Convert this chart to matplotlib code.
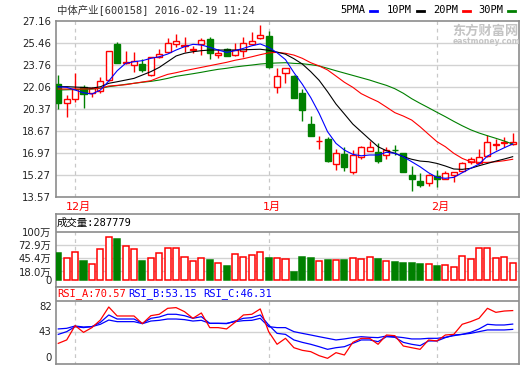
import matplotlib
matplotlib.use('Agg')
import matplotlib.pyplot as plt
import matplotlib.transforms as mtrans
from matplotlib.lines import Line2D

plt.rcParams['font.family'] = ['DejaVu Sans', 'Noto Sans CJK SC']
MONO = ['DejaVu Sans Mono', 'Noto Sans CJK SC']

# daily candles, 2015-11-27 .. 2016-02-19
opens = [22.31, 20.84, 21.13, 22.11, 21.60, 21.80, 22.60, 25.41, 23.91, 23.81,
         23.86, 23.00, 24.38, 24.81, 25.41, 25.28, 24.98, 25.41, 25.76, 24.53,
         25.00, 24.56, 24.89, 25.41, 25.85, 26.02, 22.11, 23.14, 22.93, 21.64,
         19.22, 17.89, 18.06, 16.16, 16.91, 15.54, 16.70, 17.16, 17.08, 16.85,
         17.23, 16.96, 15.28, 14.84, 14.64, 15.21, 15.00, 15.28, 15.62, 16.29,
         16.23, 16.75, 17.63, 17.76, 17.65]
closes = [20.82, 21.13, 21.93, 21.54, 21.98, 22.57, 24.86, 23.96, 24.01, 24.07,
          23.40, 24.38, 24.63, 25.46, 25.64, 25.32, 25.02, 25.71, 24.69, 24.73,
          24.48, 24.94, 25.51, 25.66, 26.10, 23.60, 22.93, 23.52, 21.21, 20.30,
          18.30, 17.93, 16.39, 16.96, 15.93, 16.83, 17.42, 17.42, 16.39, 17.21,
          17.19, 15.54, 14.97, 14.51, 15.28, 15.00, 15.41, 15.51, 16.23, 16.49,
          16.65, 17.86, 17.67, 17.80, 17.86]
highs = [23.01, 21.46, 23.19, 22.20, 22.05, 22.88, 24.90, 25.55, 24.86, 24.76,
         24.22, 24.42, 25.00, 25.85, 26.18, 25.92, 25.25, 25.85, 25.97, 25.00,
         25.08, 25.46, 25.92, 26.36, 26.87, 26.41, 23.53, 23.55, 23.00, 21.90,
         19.84, 18.30, 18.24, 17.27, 17.42, 17.21, 17.50, 17.91, 17.73, 17.47,
         17.60, 17.00, 15.98, 15.46, 15.40, 15.67, 15.62, 15.55, 16.30, 16.65,
         17.27, 18.37, 18.04, 18.20, 18.50]
lows = [20.41, 19.79, 20.90, 20.50, 21.29, 21.64, 22.55, 23.90, 23.85, 23.27,
        23.25, 22.90, 24.30, 24.78, 25.20, 24.81, 24.69, 24.56, 24.22, 24.30,
        24.45, 24.50, 24.42, 25.38, 25.80, 23.55, 21.60, 22.37, 21.20, 19.48,
        18.28, 17.27, 16.30, 15.67, 15.62, 15.36, 16.54, 17.13, 16.23, 16.50,
        16.83, 15.50, 14.07, 14.33, 14.46, 14.38, 14.98, 14.76, 15.55, 16.13,
        16.13, 16.70, 17.21, 17.47, 17.60]

ma5 = [22.10, 22.06, 21.85, 21.64, 21.54, 21.85, 22.55, 23.34, 23.91, 24.04,
       24.12, 24.30, 24.42, 24.63, 24.94, 25.20, 25.38, 25.33, 25.15, 24.94,
       24.76, 24.89, 25.07, 25.27, 25.41, 25.15, 24.73, 24.20, 23.20, 22.30,
       21.27, 20.05, 18.63, 17.73, 17.21, 16.88, 16.77, 16.83, 16.83, 17.04,
       16.96, 16.70, 16.31, 15.92, 15.46, 15.10, 15.03, 15.10, 15.46, 15.80,
       16.13, 16.75, 17.08, 17.39, 17.68]
ma10 = [22.11, 22.11, 22.08, 22.05, 22.00, 22.10, 22.37, 22.49, 22.62, 22.75,
        23.01, 23.27, 23.60, 24.04, 24.48, 24.69, 24.81, 24.89, 24.94, 24.94,
        24.94, 24.94, 24.96, 24.98, 25.00, 24.92, 24.78, 24.62, 24.27, 23.86,
        23.27, 22.60, 21.72, 20.77, 20.00, 19.22, 18.63, 18.04, 17.47, 17.16,
        16.96, 16.70, 16.50, 16.36, 16.31, 16.18, 15.98, 15.75, 15.72, 15.80,
        16.00, 16.18, 16.36, 16.52, 16.70]
ma20 = [21.93, 21.93, 21.93, 21.93, 21.95, 22.00, 22.16, 22.21, 22.26, 22.37,
        22.47, 22.57, 22.83, 23.06, 23.19, 23.34, 23.47, 23.60, 23.73, 23.86,
        23.99, 24.15, 24.27, 24.42, 24.58, 24.72, 24.76, 24.69, 24.55, 24.30,
        23.96, 23.71, 23.40, 22.93, 22.45, 22.06, 21.57, 21.25, 20.95, 20.53,
        20.10, 19.84, 19.53, 19.01, 18.43, 17.86, 17.47, 16.96, 16.57, 16.31,
        16.26, 16.26, 16.31, 16.39, 16.50]
ma30 = [21.85, 21.87, 21.89, 21.91, 21.93, 21.98, 22.11, 22.19, 22.29, 22.37,
        22.45, 22.52, 22.62, 22.75, 22.91, 23.01, 23.11, 23.22, 23.34, 23.45,
        23.53, 23.63, 23.71, 23.78, 23.86, 23.91, 23.94, 23.96, 23.91, 23.88,
        23.81, 23.71, 23.53, 23.34, 23.16, 22.98, 22.80, 22.62, 22.41, 22.21,
        21.95, 21.60, 21.18, 20.82, 20.48, 20.13, 19.79, 19.43, 19.09, 18.78,
        18.53, 18.32, 18.12, 17.91, 17.68]

# volume in 万
volumes = [57.3, 45.4, 58.0, 39.8, 33.5, 64.3, 89.5, 86.0, 70.6, 64.3,
           39.8, 45.4, 56.0, 66.4, 66.4, 47.5, 39.1, 45.4, 42.0, 35.6,
           29.4, 53.8, 47.5, 51.7, 59.4, 46.1, 46.1, 43.3, 17.5, 47.5,
           45.4, 39.1, 42.0, 41.2, 42.0, 45.4, 43.3, 47.5, 44.0, 39.1,
           37.7, 36.3, 36.3, 33.5, 33.5, 29.4, 31.4, 26.6, 50.3, 43.3,
           66.4, 66.4, 45.4, 47.5, 35.0]

rsi_a = [28.3, 32.7, 51.2, 42.5, 48.6, 58.4, 75.2, 63.6, 63.6, 63.6,
         53.7, 64.0, 65.8, 73.5, 74.4, 69.2, 60.6, 67.5, 48.6, 48.6,
         46.9, 55.4, 64.9, 65.8, 72.7, 43.4, 27.1, 34.8, 22.7, 19.3,
         17.6, 12.4, 9.0, 16.3, 13.3, 29.6, 34.8, 34.8, 27.1, 39.1,
         38.2, 24.9, 22.7, 20.6, 32.7, 31.4, 39.1, 39.9, 52.9, 56.3,
         60.6, 73.5, 68.3, 70.0, 70.57]
rsi_b = [39.9, 43.4, 49.9, 48.6, 49.9, 55.4, 64.9, 59.7, 59.7, 59.7,
         54.1, 60.6, 62.3, 65.8, 65.8, 64.0, 60.6, 62.7, 54.1, 54.1,
         53.7, 57.1, 60.6, 61.5, 64.9, 52.0, 41.2, 39.9, 32.7, 29.6,
         27.1, 24.0, 20.6, 22.7, 24.0, 28.3, 32.7, 32.7, 30.5, 36.9,
         36.1, 29.6, 27.1, 25.4, 31.4, 31.4, 35.7, 39.1, 39.9, 42.5,
         46.9, 52.9, 52.0, 52.0, 53.15]
rsi_c = [46.9, 47.7, 50.7, 49.4, 49.9, 52.9, 58.4, 56.3, 56.3, 56.3,
         53.7, 57.1, 58.0, 59.7, 59.7, 58.9, 57.1, 58.0, 54.1, 54.1,
         54.1, 56.3, 57.6, 58.0, 60.6, 49.9, 48.6, 48.6, 43.4, 41.2,
         39.1, 36.9, 34.8, 32.7, 34.0, 35.7, 36.9, 36.1, 35.7, 37.8,
         36.9, 35.7, 34.0, 34.0, 34.8, 34.8, 36.1, 38.2, 39.9, 41.2,
         43.4, 45.6, 45.6, 45.6, 46.31]

price_ticks = [13.57, 15.27, 16.97, 18.67, 20.37, 22.06, 23.76, 25.46, 27.16]
vol_ticks = [0, 18.0, 45.4, 72.9, 100]
vol_labels = ['0', '18.0万', '45.4万', '72.9万', '100万']
month_pos = [2, 25, 45]
month_names = ['12月', '1月', '2月']

RED = '#ff0000'
GREEN = '#008000'
BLUE = '#0000ff'
FRAME = '#8c8c8c'
GRID = '#d2d2d2'

W, H = 520, 365
fig = plt.figure(figsize=(5.2, 3.65), dpi=100)

def box(left, top, right, bottom):
    return [left / W, 1 - bottom / H, (right - left) / W, (bottom - top) / H]

ax = fig.add_axes(box(55.5, 21.3, 519, 197.2))
axv = fig.add_axes(box(55.5, 214.3, 519, 287.3))
axr = fig.add_axes(box(55.5, 287.3, 519, 364))

n = len(closes)
idx = list(range(n))
xl = (-0.33, 54.75)

for a in (ax, axv, axr):
    a.set_xlim(*xl)
    a.set_xticks([])
    for s in a.spines.values():
        s.set_color(FRAME)
        s.set_linewidth(1.2)
    a.tick_params(axis='y', length=0, pad=3, labelsize=7.3, colors='#222222')

# ---- price panel
ax.set_ylim(13.57, 27.16)
ax.set_yticks(price_ticks)
ax.set_yticklabels(['%.2f' % v for v in price_ticks])
for v in price_ticks[1:-1]:
    ax.axhline(v, color=GRID, lw=1, zorder=0)
for m in month_pos:
    ax.axvline(m, color='#c8c8c8', lw=0.9, ls=(0, (3, 3)), zorder=0)

up = [c >= o for o, c in zip(opens, closes)]
body_lo = [min(o, c) for o, c in zip(opens, closes)]
body_h = [max(abs(c - o), 0.03) for o, c in zip(opens, closes)]
cols = [RED if u else GREEN for u in up]
faces = ['white' if u else GREEN for u in up]

ax.vlines(idx, lows, body_lo, colors=cols, lw=1, zorder=2)
ax.vlines(idx, [b + h for b, h in zip(body_lo, body_h)], highs, colors=cols, lw=1, zorder=2)
ax.bar(idx, body_h, bottom=body_lo, width=0.72, color=faces, edgecolor=cols,
       linewidth=1, zorder=3)

ax.plot(idx, ma30, color=GREEN, lw=0.8, zorder=4)
ax.plot(idx, ma20, color=RED, lw=0.8, zorder=4)
ax.plot(idx, ma10, color='black', lw=0.8, zorder=4)
ax.plot(idx, ma5, color=BLUE, lw=0.8, zorder=4)

tr = mtrans.blended_transform_factory(ax.transData, ax.transAxes)
for m, name in zip(month_pos, month_names):
    ax.text(m + 0.4, -0.057, name, transform=tr, color=RED, fontsize=8,
            ha='center', va='center')

# ---- volume panel
axv.set_ylim(-15.3, 137.7)
axv.set_yticks(vol_ticks)
axv.set_yticklabels(vol_labels)
for v in vol_ticks[1:-1]:
    axv.axhline(v, color=GRID, lw=1, zorder=0)
axv.axhline(100, color=FRAME, lw=1.2, zorder=1)
axv.vlines(month_pos, 0, 100, colors='#c8c8c8', lw=0.9, linestyles=(0, (3, 3)), zorder=0)
vfaces = ['white' if u else GREEN for u in up]
axv.bar(idx, volumes, width=0.72, color=vfaces, edgecolor=cols, linewidth=1.1, zorder=3)
axv.text(-0.15, 119.5, '成交量:287779', fontsize=7.5, family=MONO, va='center',
         color='black')

# ---- RSI panel
axr.set_ylim(1.68, 100.6)
axr.set_yticks([])
axr.axhline(43, color=GRID, lw=1, zorder=0)
axr.axhline(83, color=FRAME, lw=1.2, zorder=1)
axr.vlines(month_pos, 0, 83, colors='#c8c8c8', lw=0.9, linestyles=(0, (3, 3)), zorder=0)
axr.plot(idx, rsi_c, color=BLUE, lw=0.9)
axr.plot(idx, rsi_b, color=BLUE, lw=0.9)
axr.plot(idx, rsi_a, color=RED, lw=0.9)
trr = mtrans.blended_transform_factory(axr.transAxes, axr.transData)
axr.text(-0.008, 82, '82', transform=trr, ha='right', va='top', fontsize=7.3, color='#222222')
axr.text(-0.008, 43, '43', transform=trr, ha='right', va='center', fontsize=7.3, color='#222222')
axr.text(-0.008, 2.5, '0', transform=trr, ha='right', va='bottom', fontsize=7.3, color='#222222')
for xpos, label, c in [(-0.15, 'RSI_A:70.57', RED), (8.3, 'RSI_B:53.15', BLUE),
                       (17.2, 'RSI_C:46.31', BLUE)]:
    axr.text(xpos, 93, label, fontsize=7.5, family=MONO, color=c, va='center')

# ---- header texts
fig.text(57 / W, 1 - 10 / H, '中体产业[600158] 2016-02-19 11:24', fontsize=7.5,
         family=MONO, color='#333333', va='center')
legend_items = [(340, '5PMA', BLUE), (387, '10PM', 'black'),
                (433, '20PM', RED), (478, '30PM', GREEN)]
for x0, label, c in legend_items:
    fig.text(x0 / W, 1 - 10 / H, label, fontsize=7.5, family=MONO, color='black',
             va='center')
    fig.add_artist(Line2D([(x0 + 30) / W, (x0 + 37) / W], [1 - 10.5 / H] * 2,
                          color=c, lw=2))
fig.text(452 / W, 1 - 31 / H, '东方财富网', fontsize=9.5, color='#c4c4c4',
         weight='bold', va='center')
fig.text(453 / W, 1 - 42 / H, 'eastmoney.com', fontsize=5.5, color='#c4c4c4',
         weight='bold', va='center')

fig.savefig('out.png', dpi=100)
